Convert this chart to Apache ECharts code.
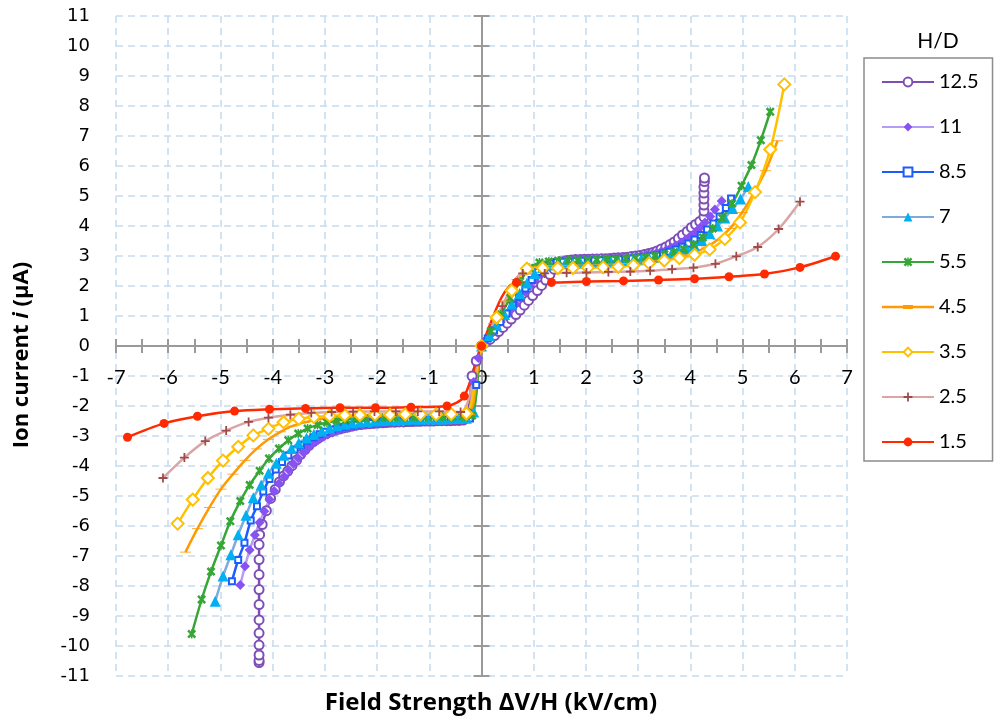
<!DOCTYPE html>
<html>
<head>
<meta charset="utf-8">
<script src="https://cdn.jsdelivr.net/npm/echarts@6.0.0/dist/echarts.min.js"></script>
<style>
html,body{margin:0;padding:0;background:#fff;}
#chart{width:995px;height:723px;}
</style>
</head>
<body>
<div id="chart"></div>
<script>
// ---------------- DATA ----------------
const legendNames = ['12.5', '11', '8.5', '7', '5.5', '4.5', '3.5', '2.5', '1.5'];
const xRange = [-7, 7];
const yRange = [-11, 11];
const xAxisTitle = 'Field Strength \u0394V/H (kV/cm)';
const yAxisTitleParts = ['Ion current ', 'i', ' (\u03bcA)'];
const legendTitle = 'H/D';

// [field strength, ion current]
const hd12_5 = [
[-4.26,-10.55],[-4.26,-10.48],[-4.26,-10.3],[-4.26,-9.97],[-4.26,-9.57],[-4.26,-9.13],[-4.26,-8.62],[-4.26,-8.12],[-4.26,-7.62],[-4.26,-7.12],[-4.26,-6.62],[-4.25,-6.29],
[-4.20,-5.95],[-4.12,-5.49],[-4.04,-5.08],[-3.95,-4.78],[-3.87,-4.53],[-3.79,-4.33],[-3.71,-4.17],[-3.63,-3.99],[-3.54,-3.8],[-3.46,-3.61],
[-3.38,-3.45],[-3.30,-3.31],[-3.22,-3.19],[-3.13,-3.08],[-3.05,-2.99],[-2.97,-2.92],[-2.89,-2.86],[-2.81,-2.81],[-2.72,-2.77],[-2.64,-2.73],
[-2.56,-2.7],[-2.48,-2.67],[-2.40,-2.64],[-2.31,-2.62],[-2.23,-2.6],[-2.15,-2.59],[-2.07,-2.58],[-1.99,-2.57],[-1.90,-2.56],[-1.82,-2.55],
[-1.74,-2.54],[-1.66,-2.54],[-1.58,-2.53],[-1.49,-2.53],[-1.41,-2.52],[-1.33,-2.52],[-1.25,-2.51],[-1.17,-2.51],[-1.08,-2.5],[-1.00,-2.5],
[-0.92,-2.5],[-0.84,-2.49],[-0.76,-2.49],[-0.67,-2.49],[-0.59,-2.49],[-0.51,-2.48],[-0.43,-2.48],[-0.35,-2.47],[-0.26,-2.25],[-0.18,-1.0],
[-0.10,-0.5],[0,0],
[0.08,0.12],[0.16,0.22],[0.25,0.35],[0.33,0.48],[0.41,0.62],[0.49,0.76],[0.57,0.9],[0.66,1.05],[0.74,1.2],[0.82,1.36],
[0.90,1.52],[0.98,1.68],[1.07,1.85],[1.15,2.02],[1.23,2.2],[1.31,2.38],[1.39,2.56],[1.48,2.72],[1.56,2.81],[1.64,2.85],
[1.72,2.87],[1.80,2.88],[1.89,2.88],[1.97,2.89],[2.05,2.89],[2.13,2.9],[2.21,2.9],[2.30,2.91],[2.38,2.91],[2.46,2.92],
[2.54,2.93],[2.62,2.94],[2.71,2.95],[2.79,2.96],[2.87,2.98],[2.95,3.0],[3.03,3.02],[3.12,3.05],[3.20,3.08],[3.28,3.12],
[3.36,3.17],[3.44,3.23],[3.53,3.3],[3.61,3.38],[3.69,3.47],[3.77,3.58],[3.85,3.7],[3.94,3.82],[4.02,3.95],[4.10,4.05],
[4.18,4.15],[4.26,4.3],[4.26,4.5],[4.26,4.7],[4.26,4.9],[4.26,5.1],[4.26,5.3],[4.27,5.48],[4.27,5.6]
];

const hd11 = [
[-4.62,-7.97],[-4.53,-7.34],[-4.44,-6.8],[-4.34,-6.3],[-4.25,-5.88],[-4.16,-5.51],[-4.06,-5.12],[-3.97,-4.83],[-3.88,-4.58],[-3.78,-4.35],
[-3.69,-4.13],[-3.60,-3.93],[-3.51,-3.74],[-3.41,-3.55],[-3.32,-3.39],[-3.23,-3.25],[-3.13,-3.13],[-3.04,-3.03],[-2.95,-2.95],[-2.85,-2.88],
[-2.76,-2.82],[-2.67,-2.77],[-2.57,-2.73],[-2.48,-2.69],[-2.39,-2.66],[-2.29,-2.63],[-2.20,-2.6],[-2.11,-2.58],[-2.01,-2.56],[-1.92,-2.55],
[-1.83,-2.54],[-1.73,-2.53],[-1.64,-2.52],[-1.55,-2.51],[-1.45,-2.5],[-1.36,-2.5],[-1.27,-2.49],[-1.17,-2.49],[-1.08,-2.48],[-0.99,-2.48],
[-0.89,-2.47],[-0.80,-2.47],[-0.71,-2.47],[-0.61,-2.46],[-0.52,-2.46],[-0.43,-2.46],[-0.33,-2.45],[-0.24,-2.3],[-0.15,-1.2],[-0.06,-0.4],
[0,0],
[0.09,0.2],[0.19,0.4],[0.28,0.6],[0.37,0.8],[0.47,1.0],[0.56,1.2],[0.65,1.4],[0.74,1.6],[0.84,1.8],[0.93,2.0],
[1.02,2.2],[1.12,2.4],[1.21,2.58],[1.30,2.72],[1.40,2.8],[1.49,2.84],[1.58,2.86],[1.68,2.87],[1.77,2.88],[1.86,2.88],
[1.96,2.89],[2.05,2.89],[2.14,2.9],[2.23,2.9],[2.33,2.91],[2.42,2.91],[2.51,2.92],[2.61,2.93],[2.70,2.94],[2.79,2.95],
[2.89,2.96],[2.98,2.98],[3.07,3.0],[3.17,3.03],[3.26,3.06],[3.35,3.1],[3.44,3.15],[3.54,3.21],[3.63,3.28],[3.72,3.36],
[3.82,3.45],[3.91,3.55],[4.00,3.67],[4.10,3.8],[4.19,3.95],[4.28,4.12],[4.38,4.32],[4.47,4.55],[4.60,4.83]
];

const hd8_5 = [
[-4.78,-7.84],[-4.66,-7.13],[-4.54,-6.56],[-4.42,-5.82],[-4.30,-5.34],[-4.18,-4.85],[-4.06,-4.43],[-3.94,-4.12],[-3.82,-3.87],[-3.70,-3.65],
[-3.58,-3.46],[-3.46,-3.3],[-3.34,-3.16],[-3.22,-3.04],[-3.10,-2.94],[-2.98,-2.86],[-2.86,-2.79],[-2.74,-2.74],[-2.62,-2.69],[-2.50,-2.65],
[-2.38,-2.62],[-2.26,-2.59],[-2.14,-2.57],[-2.02,-2.55],[-1.90,-2.54],[-1.78,-2.52],[-1.66,-2.51],[-1.54,-2.5],[-1.42,-2.49],[-1.30,-2.48],
[-1.18,-2.48],[-1.06,-2.47],[-0.94,-2.47],[-0.82,-2.46],[-0.70,-2.46],[-0.58,-2.46],[-0.46,-2.45],[-0.34,-2.45],[-0.22,-2.42],[-0.10,-1.3],
[0,0],
[0.12,0.25],[0.24,0.52],[0.36,0.8],[0.48,1.08],[0.60,1.36],[0.72,1.64],[0.84,1.92],[0.96,2.2],[1.08,2.47],[1.20,2.66],
[1.32,2.75],[1.44,2.79],[1.56,2.81],[1.68,2.82],[1.80,2.83],[1.92,2.84],[2.04,2.85],[2.16,2.85],[2.28,2.86],[2.40,2.87],
[2.52,2.88],[2.64,2.89],[2.76,2.9],[2.88,2.92],[3.00,2.94],[3.12,2.96],[3.24,2.99],[3.36,3.03],[3.48,3.08],[3.60,3.14],
[3.72,3.22],[3.84,3.31],[3.96,3.42],[4.08,3.55],[4.20,3.7],[4.32,3.88],[4.44,4.08],[4.56,4.32],[4.68,4.6],[4.78,4.92]
];

const hd7 = [
[-5.10,-8.51],[-4.95,-7.67],[-4.80,-6.96],[-4.66,-6.29],[-4.51,-5.64],[-4.37,-5.06],[-4.22,-4.63],[-4.08,-4.24],[-3.93,-3.91],[-3.79,-3.64],
[-3.64,-3.42],[-3.50,-3.23],[-3.35,-3.07],[-3.21,-2.94],[-3.06,-2.83],[-2.91,-2.74],[-2.77,-2.67],[-2.62,-2.61],[-2.48,-2.57],[-2.33,-2.54],
[-2.19,-2.52],[-2.04,-2.5],[-1.90,-2.48],[-1.75,-2.47],[-1.60,-2.46],[-1.46,-2.45],[-1.31,-2.44],[-1.17,-2.44],[-1.02,-2.43],[-0.87,-2.43],
[-0.73,-2.43],[-0.58,-2.42],[-0.44,-2.42],[-0.29,-2.41],[-0.15,-2.2],
[0,0],
[0.15,0.35],[0.29,0.7],[0.44,1.05],[0.58,1.4],[0.73,1.75],[0.87,2.1],[1.02,2.42],[1.17,2.62],[1.31,2.7],[1.46,2.73],
[1.60,2.75],[1.75,2.76],[1.90,2.77],[2.04,2.78],[2.19,2.79],[2.33,2.8],[2.48,2.81],[2.62,2.83],[2.77,2.85],[2.91,2.87],
[3.06,2.9],[3.21,2.93],[3.35,2.97],[3.50,3.02],[3.64,3.08],[3.79,3.15],[3.93,3.24],[4.08,3.35],[4.22,3.52],[4.37,3.75],
[4.52,4.0],[4.66,4.27],[4.81,4.58],[4.96,4.9],[5.11,5.32]
];

const hd5_5 = [
[-5.55,-9.6],[-5.36,-8.45],[-5.18,-7.52],[-4.99,-6.65],[-4.81,-5.84],[-4.62,-5.17],[-4.44,-4.63],[-4.25,-4.16],[-4.07,-3.75],[-3.88,-3.42],
[-3.70,-3.14],[-3.51,-2.92],[-3.33,-2.75],[-3.14,-2.63],[-2.96,-2.55],[-2.77,-2.49],[-2.59,-2.45],[-2.40,-2.42],[-2.22,-2.4],[-2.03,-2.39],
[-1.85,-2.38],[-1.66,-2.38],[-1.48,-2.37],[-1.29,-2.37],[-1.11,-2.37],[-0.92,-2.36],[-0.74,-2.36],[-0.55,-2.36],[-0.37,-2.35],[-0.18,-2.32],
[0,0],
[0.18,0.5],[0.37,1.05],[0.55,1.6],[0.74,2.15],[0.92,2.6],[1.11,2.78],[1.29,2.82],[1.47,2.84],[1.66,2.85],[1.84,2.86],
[2.03,2.87],[2.21,2.88],[2.40,2.89],[2.58,2.9],[2.77,2.92],[2.95,2.94],[3.14,2.97],[3.32,3.01],[3.50,3.06],[3.69,3.13],
[3.87,3.23],[4.06,3.38],[4.24,3.62],[4.43,3.92],[4.61,4.27],[4.80,4.75],[4.98,5.34],[5.17,6.03],[5.35,6.86],[5.53,7.81]
];

const hd4_5 = [
[-5.67,-6.87],[-5.44,-6.09],[-5.21,-5.38],[-4.99,-4.77],[-4.76,-4.27],[-4.53,-3.81],[-4.31,-3.43],[-4.08,-3.11],[-3.85,-2.86],[-3.63,-2.67],
[-3.40,-2.55],[-3.17,-2.46],[-2.95,-2.41],[-2.72,-2.38],[-2.49,-2.36],[-2.27,-2.35],[-2.04,-2.34],[-1.81,-2.33],[-1.59,-2.33],[-1.36,-2.32],
[-1.13,-2.32],[-0.91,-2.32],[-0.68,-2.31],[-0.45,-2.31],[-0.23,-2.28],
[0,0],
[0.23,0.75],[0.45,1.5],[0.68,2.22],[0.91,2.6],[1.13,2.66],[1.36,2.68],[1.59,2.69],[1.81,2.7],[2.04,2.71],[2.27,2.72],
[2.49,2.73],[2.72,2.75],[2.95,2.77],[3.17,2.8],[3.40,2.85],[3.63,2.91],[3.85,3.0],[4.08,3.12],[4.31,3.3],[4.53,3.55],
[4.76,3.92],[4.99,4.45],[5.21,5.08],[5.44,5.84],[5.67,6.84]
];

const hd3_5 = [
[-5.82,-5.92],[-5.53,-5.12],[-5.24,-4.4],[-4.95,-3.82],[-4.66,-3.36],[-4.37,-2.98],[-4.08,-2.76],[-3.79,-2.54],[-3.50,-2.43],[-3.21,-2.37],
[-2.91,-2.33],[-2.62,-2.31],[-2.33,-2.3],[-2.04,-2.29],[-1.75,-2.29],[-1.46,-2.28],[-1.17,-2.28],[-0.87,-2.28],[-0.58,-2.27],[-0.29,-2.25],
[0,0],
[0.29,0.95],[0.58,1.85],[0.87,2.58],[1.17,2.6],[1.46,2.6],[1.75,2.6],[2.04,2.61],[2.33,2.62],[2.62,2.64],[2.91,2.69],
[3.21,2.76],[3.50,2.85],[3.79,2.93],[4.08,3.04],[4.37,3.22],[4.66,3.57],[4.95,4.12],[5.24,5.13],[5.53,6.55],[5.80,8.72]
];

const hd2_5 = [
[-6.10,-4.4],[-5.69,-3.72],[-5.29,-3.17],[-4.89,-2.82],[-4.46,-2.53],[-4.08,-2.39],[-3.66,-2.29],[-3.26,-2.23],[-2.87,-2.2],[-2.46,-2.19],
[-2.05,-2.18],[-1.64,-2.18],[-1.22,-2.18],[-0.81,-2.18],[-0.40,-2.2],
[0,0],
[0.40,1.33],[0.79,2.42],[1.21,2.42],[1.63,2.44],[2.01,2.45],[2.43,2.47],[2.85,2.48],[3.23,2.51],[3.65,2.56],[4.06,2.61],
[4.48,2.74],[4.88,2.99],[5.29,3.3],[5.69,3.9],[6.10,4.81]
];

const hd1_5 = [
[-6.78,-3.04],[-6.08,-2.58],[-5.44,-2.34],[-4.73,-2.17],[-4.06,-2.11],[-3.37,-2.08],[-2.71,-2.06],[-2.03,-2.06],[-1.35,-2.04],[-0.66,-2.0],
[-0.33,-1.67],[0,0],
[0.67,2.12],[1.34,2.12],[2.01,2.15],[2.72,2.17],[3.39,2.2],[4.08,2.24],[4.74,2.31],[5.42,2.4],[6.10,2.62],[6.78,2.99]
];

const seriesData = [hd12_5, hd11, hd8_5, hd7, hd5_5, hd4_5, hd3_5, hd2_5, hd1_5];

// ---------------- STYLES ----------------
const asterisk = 'path://M2,0L5,3L8,0L10,2L7,5L10,8L8,10L5,7L2,10L0,8L3,5L0,2Z M4.2,0L5.8,0L5.8,10L4.2,10Z';
const plus = 'path://M4,0L6,0L6,4L10,4L10,6L6,6L6,10L4,10L4,6L0,6L0,4L4,4Z';
const dash = 'path://M0,0L11,0L11,3L0,3Z';
// legend icon for the dash-marker series: thin line with a slightly thicker dash in the middle
const dashLegendIcon = 'path://M0,0L0.05,0L0,0.05Z M52,11L51.95,11L52,10.95Z M0,4.3L52,4.3L52,6.7L0,6.7Z M21,3.6L31,3.6L31,7.4L21,7.4Z';
const styles = [
  {line:'#7d4fb6', mark:'#7d4fb6', symbol:'emptyCircle', size:9, bw:1.6},
  {line:'#b69cf6', mark:'#8752f2', symbol:'diamond', size:10},
  {line:'#1a5cff', mark:'#1a5cff', symbol:'emptyRect', size:6, bw:1.6},
  {line:'#7eaadc', mark:'#00b0f0', symbol:'triangle', size:11},
  {line:'#36a636', mark:'#36a636', symbol:asterisk, size:9},
  {line:'#ff9a00', mark:'#ff9a00', symbol:dash, size:[11,3], keep:true},
  {line:'#ffc000', mark:'#ffc000', symbol:'emptyDiamond', size:12, bw:1.8},
  {line:'#dba5a5', mark:'#a04a4a', symbol:plus, size:9},
  {line:'#ff2a00', mark:'#ff2a00', symbol:'circle', size:9}
];

const series = legendNames.map((name, k) => {
  const st = styles[k];
  const itemStyle = {color: st.mark};
  if (st.bw) { itemStyle.borderColor = st.mark; itemStyle.borderWidth = st.bw; }
  return {
    name: name,
    type: 'line',
    data: seriesData[k],
    xAxisIndex: 0,
    yAxisIndex: 0,
    smooth: 0.3,
    symbol: st.symbol,
    symbolSize: st.size,
    symbolKeepAspect: !!st.keep,
    showAllSymbol: true,
    lineStyle: {color: st.line, width: 2.5},
    itemStyle: itemStyle,
    emphasis: {disabled: true}
  };
});

const legendData = legendNames.map(n => (n === '4.5' ? {name: n, icon: dashLegendIcon} : {name: n}));

const axisGray = '#9a9a9a';
const gridColor = '#c8dcee';
const zeroOffset = -330; // moves the labelled x axis from the grid bottom up to y = 0

const chart = echarts.init(document.getElementById('chart'), null, {renderer: 'canvas'});
chart.setOption({
  animation: false,
  backgroundColor: '#ffffff',
  grid: {left: 116, right: 148, top: 16, bottom: 47, containLabel: false},
  xAxis: [
    {
      type: 'value', min: xRange[0], max: xRange[1], interval: 1, position: 'bottom', offset: zeroOffset,
      axisLine: {show: true, onZero: false, lineStyle: {color: axisGray, width: 2}},
      axisTick: {show: true, length: 7, lineStyle: {color: axisGray, width: 2}},
      minorTick: {show: true, splitNumber: 2, length: 7, lineStyle: {color: axisGray, width: 2}},
      axisLabel: {show: true, margin: 22, fontSize: 20, fontFamily: 'Lato', color: '#000', showMinLabel: true, showMaxLabel: true},
      splitLine: {show: true, lineStyle: {color: gridColor, type: [7, 5], width: 1.6}}
    },
    {
      type: 'value', min: xRange[0], max: xRange[1], interval: 1, position: 'bottom', offset: zeroOffset,
      axisLine: {show: false, onZero: false},
      axisTick: {show: true, inside: true, length: 7, lineStyle: {color: axisGray, width: 2}},
      minorTick: {show: true, splitNumber: 2, length: 7, lineStyle: {color: axisGray, width: 2}},
      axisLabel: {show: false},
      splitLine: {show: false}
    }
  ],
  yAxis: [
    {
      type: 'value', min: yRange[0], max: yRange[1], interval: 1, position: 'left',
      axisLine: {show: false, onZero: false},
      axisTick: {show: false},
      axisLabel: {show: true, margin: 26, fontSize: 18, fontFamily: 'DejaVu Sans', color: '#000', showMinLabel: true, showMaxLabel: true},
      splitLine: {show: true, lineStyle: {color: gridColor, type: [7, 5], width: 1.6}}
    },
    {
      type: 'value', min: yRange[0], max: yRange[1], interval: 1, position: 'left',
      axisLine: {show: true, onZero: true, onZeroAxisIndex: 0, lineStyle: {color: axisGray, width: 2}},
      axisTick: {show: true, length: 8, lineStyle: {color: axisGray, width: 2}},
      axisLabel: {show: false},
      splitLine: {show: false}
    },
    {
      type: 'value', min: yRange[0], max: yRange[1], interval: 1, position: 'left',
      axisLine: {show: false, onZero: true, onZeroAxisIndex: 0},
      axisTick: {show: true, inside: true, length: 8, lineStyle: {color: axisGray, width: 2}},
      axisLabel: {show: false},
      splitLine: {show: false}
    }
  ],
  legend: {
    orient: 'vertical',
    left: 864, top: 58,
    padding: [14, 14, 9, 17],
    itemGap: 25,
    itemWidth: 52,
    itemHeight: 11,
    borderColor: '#8c8c8c',
    borderWidth: 1.5,
    selectedMode: false,
    textStyle: {fontSize: 20, fontFamily: 'Lato', color: '#000', lineHeight: 20},
    data: legendData
  },
  graphic: [
    {
      type: 'text', x: 938, y: 41,
      style: {text: legendTitle, fontSize: 21, fontFamily: 'Lato', fill: '#000', align: 'center', verticalAlign: 'middle'}
    },
    {
      type: 'text', x: 491, y: 703,
      style: {text: xAxisTitle, fontSize: 24, fontWeight: 'bold', fontFamily: 'Open Sans', fill: '#000', align: 'center', verticalAlign: 'middle'}
    },
    {
      type: 'text', x: 22, y: 355, rotation: Math.PI / 2,
      style: {
        text: '{b|' + yAxisTitleParts[0] + '}{i|' + yAxisTitleParts[1] + '}{b|' + yAxisTitleParts[2] + '}',
        align: 'center', verticalAlign: 'middle',
        rich: {
          b: {fontSize: 22, fontWeight: 'bold', fontFamily: 'Open Sans', fill: '#000', color: '#000'},
          i: {fontSize: 22, fontWeight: 'bold', fontStyle: 'italic', fontFamily: 'Open Sans', fill: '#000', color: '#000'}
        }
      }
    }
  ],
  series: series
});
</script>
</body>
</html>
